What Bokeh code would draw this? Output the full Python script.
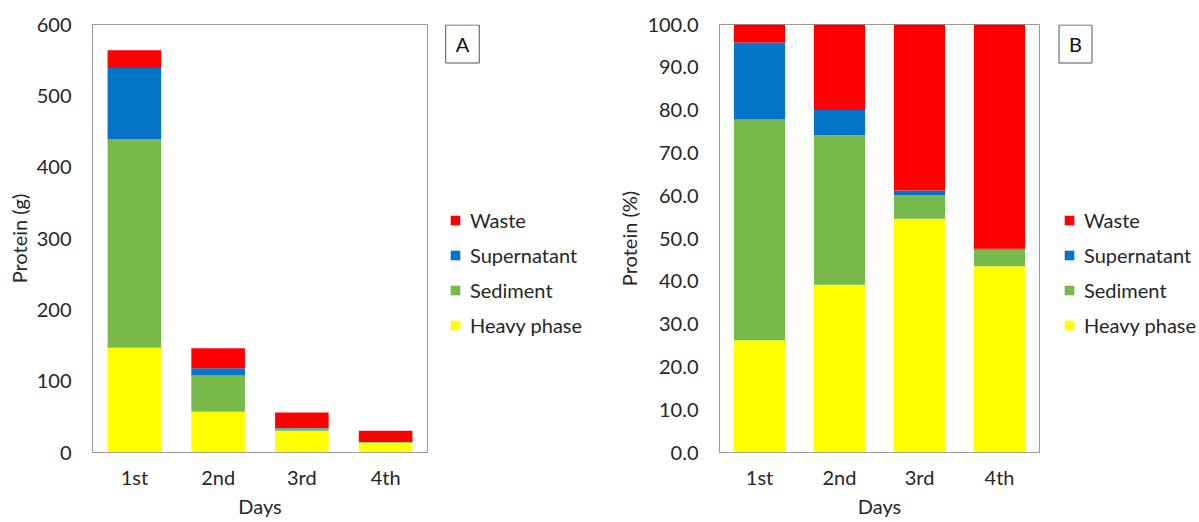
from bokeh.plotting import figure
from bokeh.layouts import row
from bokeh.models import (FactorRange, Range1d, FixedTicker, Legend, LegendItem, Label,
                          PrintfTickFormatter)
from bokeh.embed import file_html
from bokeh.resources import INLINE

days = ["1st", "2nd", "3rd", "4th"]
fractions = ["Heavy phase", "Sediment", "Supernatant", "Waste"]
colors = ["#FFFF00", "#77B94A", "#0473C8", "#FF0000"]

# Protein mass per fraction (g)
heavy_g = [147.0, 57.0, 30.6, 13.5]
sediment_g = [292.0, 51.0, 3.1, 1.2]
supernatant_g = [100.0, 10.0, 0.6, 0.1]
waste_g = [25.0, 28.0, 21.7, 15.8]

# Protein share per fraction (%)
heavy_pct = [26.2, 39.2, 54.6, 43.5]
sediment_pct = [51.6, 34.9, 5.5, 3.9]
supernatant_pct = [18.0, 5.9, 1.1, 0.2]
waste_pct = [4.2, 20.0, 38.8, 52.4]

ticks_g = [0, 100, 200, 300, 400, 500, 600]
ticks_pct = [0, 10, 20, 30, 40, 50, 60, 70, 80, 90, 100]

FONT = "Lato"
FS = "20px"
TXT = "#262626"
FRAME = "#9a9a9a"
H = 522
FRAME_H = 428   # plot area height shared by every panel in the row


def table(values):
    data = {"day": days}
    for name, vals in zip(fractions, values):
        data[name] = vals
    return data


def chart(values, ymax, ticks, ylabel, width, left, fmt=None):
    p = figure(x_range=FactorRange(*days, range_padding=0), y_range=Range1d(0, ymax),
               width=width, height=H, output_backend="svg", toolbar_location=None,
               min_border_left=left, min_border_right=1,
               min_border_top=24, min_border_bottom=70)
    p.xgrid.grid_line_color = None
    p.ygrid.grid_line_color = None
    p.outline_line_color = FRAME
    p.outline_line_width = 1

    p.vbar_stack(fractions, x="day", width=0.64, color=colors, line_color=None,
                 source=table(values))

    for ax in (p.xaxis[0], p.yaxis[0]):
        ax.axis_line_color = FRAME
        ax.major_tick_line_color = None
        ax.minor_tick_line_color = None
        ax.major_tick_out = 0
        ax.major_tick_in = 0
        ax.minor_tick_out = 0
        ax.minor_tick_in = 0
        ax.major_label_text_font = FONT
        ax.major_label_text_font_size = FS
        ax.major_label_text_color = TXT
        ax.axis_label_text_font = FONT
        ax.axis_label_text_font_size = FS
        ax.axis_label_text_font_style = "normal"
        ax.axis_label_text_color = TXT
    p.yaxis.ticker = FixedTicker(ticks=ticks)
    if fmt:
        p.yaxis.formatter = PrintfTickFormatter(format=fmt)
    p.yaxis.major_label_standoff = 21
    p.yaxis.axis_label = ylabel
    p.yaxis.axis_label_standoff = 3
    p.xaxis.major_label_standoff = 12
    p.xaxis.axis_label = "Days"
    p.xaxis.axis_label_standoff = 2
    return p


def key(values, ymax, tag, width, legend_x, tag_x):
    # Side strip holding the series key and the panel letter
    k = figure(width=width, height=H, x_range=FactorRange(*days), y_range=Range1d(0, ymax),
               x_axis_type=None, y_axis_type=None, output_backend="svg",
               toolbar_location=None, min_border=0, outline_line_color=None)
    k.xgrid.grid_line_color = None
    k.ygrid.grid_line_color = None
    # hidden copies of the stacks, used only as legend swatches
    swatches = k.vbar_stack(fractions, x="day", width=0.64, color=colors, line_color=None,
                            source=table(values))
    for r in swatches:
        r.visible = False
    items = [LegendItem(label=fractions[i], renderers=[swatches[i]]) for i in (3, 2, 1, 0)]
    legend = Legend(items=items, location=(legend_x, 115), orientation="vertical",
                    glyph_width=12, glyph_height=12, label_height=20, spacing=11,
                    label_standoff=9, padding=0, margin=0, click_policy="none",
                    inactive_fill_alpha=0,
                    border_line_color=None, background_fill_alpha=0,
                    label_text_font=FONT, label_text_font_size=FS,
                    label_text_color=TXT)
    k.add_layout(legend, "center")
    k.add_layout(Label(x=tag_x, y=FRAME_H - 19.5, x_units="screen", y_units="screen", text=tag,
                       text_align="center", text_baseline="middle",
                       text_font=FONT, text_font_size=FS, text_color="#111111",
                       border_line_color="#555555", border_line_width=1,
                       background_fill_color="white", padding=(10, 7)))
    return k


vals_g = [heavy_g, sediment_g, supernatant_g, waste_g]
vals_pct = [heavy_pct, sediment_pct, supernatant_pct, waste_pct]

pA = chart(vals_g, 600, ticks_g, "Protein (g)", 428, 92)
kA = key(vals_g, 600, "A", 172, 21, 34)
pB = chart(vals_pct, 100, ticks_pct, "Protein (%)", 440, 119, fmt="%.1f")
kB = key(vals_pct, 100, "B", 159, 23, 35)

layout = row(pA, kA, pB, kB)
open("out.html", "w").write(file_html(layout, INLINE))
